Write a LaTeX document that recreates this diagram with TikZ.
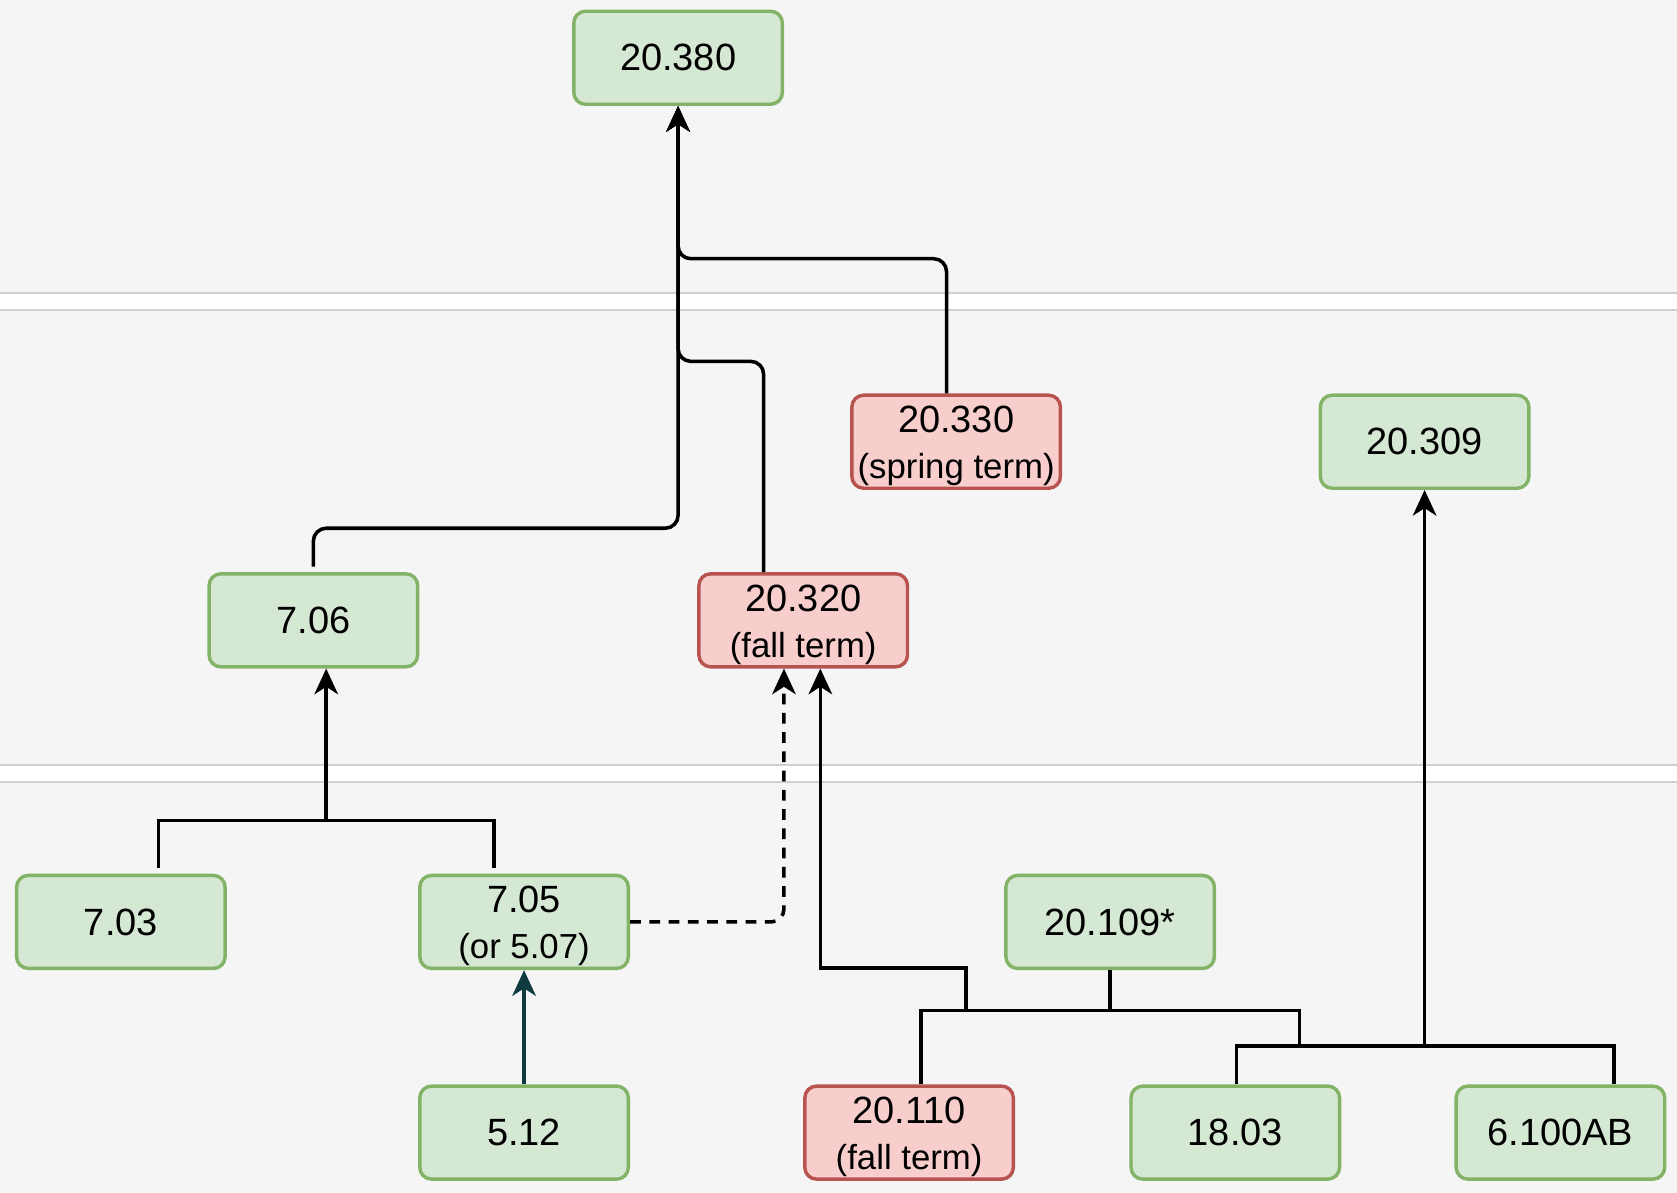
\documentclass[tikz,border=0pt]{standalone}
\usepackage{fontspec}
\setmainfont{Liberation Sans}
\usetikzlibrary{arrows.meta,calc}
\definecolor{gfill}{HTML}{D5E8D4}
\definecolor{gstroke}{HTML}{82B366}
\definecolor{rfill}{HTML}{F8CECC}
\definecolor{rstroke}{HTML}{B85450}
\definecolor{secfill}{HTML}{F5F5F5}
\definecolor{secline}{HTML}{D0D0D0}
\definecolor{teal}{HTML}{0F3A40}
\newcommand{\topstrut}{\rule{0pt}{33pt}}
\newcommand{\sub}[1]{{\fontsize{32.5}{43}\selectfont #1}}
\tikzset{
  box/.style={line width=3.2pt, rounded corners=11pt, minimum width=195pt, minimum height=87pt, inner sep=0pt, align=center, font=\fontsize{35.5}{43}\selectfont},
  gbox/.style={box, draw=gstroke, fill=gfill},
  rbox/.style={box, draw=rstroke, fill=rfill},
  conn/.style={line width=3.3pt, draw=black},
  arr/.style={-{Stealth[length=24pt,width=22pt,inset=7pt]}},
}
\begin{document}
\begin{tikzpicture}[x=1pt,y=-1pt]
\useasboundingbox (0,0) rectangle (1568,1115.4);
\clip (0,0) rectangle (1568,1115.4);
% background sections
\fill[white] (-10,-10) rectangle (1580,1130);
\filldraw[fill=secfill, draw=secline, line width=1.5pt] (-10,-10) rectangle (1580,274);
\filldraw[fill=secfill, draw=secline, line width=1.5pt] (-10,290) rectangle (1580,715);
\filldraw[fill=secfill, draw=secline, line width=1.5pt] (-10,731) rectangle (1580,1130);
% nodes
\node[gbox] (n380) at (634,54) {20.380};
\node[rbox] (n330) at (894,413) {\topstrut 20.330\\\sub{(spring term)}};
\node[gbox] (n309) at (1332,413) {20.309};
\node[gbox] (n706) at (293,580) {7.06};
\node[rbox] (n320) at (751,580) {\topstrut 20.320\\\sub{(fall term)}};
\node[gbox] (n703) at (113,862) {7.03};
\node[gbox] (n705) at (490,862) {\topstrut 7.05\\\sub{(or 5.07)}};
\node[gbox] (n109) at (1038,862) {20.109*};
\node[gbox] (n512) at (490,1059) {5.12};
\node[rbox] (n110) at (850,1059) {\topstrut 20.110\\\sub{(fall term)}};
\node[gbox] (n1803) at (1155,1059) {18.03};
\node[gbox] (n6100) at (1459,1059) {6.100AB};
% top connectors
\draw[conn,arr,rounded corners=12pt] ([yshift=5pt]n706.north) -- ++(0,-36) -| (n380.south);
\draw[conn,arr,rounded corners=12pt] ([xshift=-37pt]n320.north) -- ++(0,-197) -| (n380.south);
\draw[conn,arr,rounded corners=12pt] ([xshift=-9pt]n330.north) -- ++(0,-126) -| (n380.south);
% left tree
\coordinate (j1) at (305,767);
\draw[conn] ([xshift=35pt,yshift=5pt]n703.north) |- (j1) -| ([xshift=-28pt,yshift=5pt]n705.north);
\draw[conn,arr] (j1) -- ([xshift=12pt]n706.south);
\draw[conn,arr,draw=teal,fill=teal] (n512.north) -- (n705.south);
% dashed
\draw[conn,arr,dashed,dash pattern=on 10pt off 8pt,rounded corners=12pt] (n705.east) -| ([xshift=-18pt]n320.south);
% bottom right tree
\coordinate (h1) at (1215,945);
\coordinate (h2) at (1215,978);
\coordinate (j2) at (903,945);
\draw[conn] ([xshift=11pt]n110.north) |- (h1) -- (h2);
\draw[conn] (n109.south) -- (n109.south |- h1);
\draw[conn,arr] (j2) -- ++(0,-40) -| ([xshift=16pt]n320.south);
\coordinate (k) at (1332,978);
\draw[conn] ([xshift=1pt]n1803.north) |- (k) -| ([xshift=50pt]n6100.north);
\draw[conn,arr] (k) -- (n309.south);
\end{tikzpicture}
\end{document}
